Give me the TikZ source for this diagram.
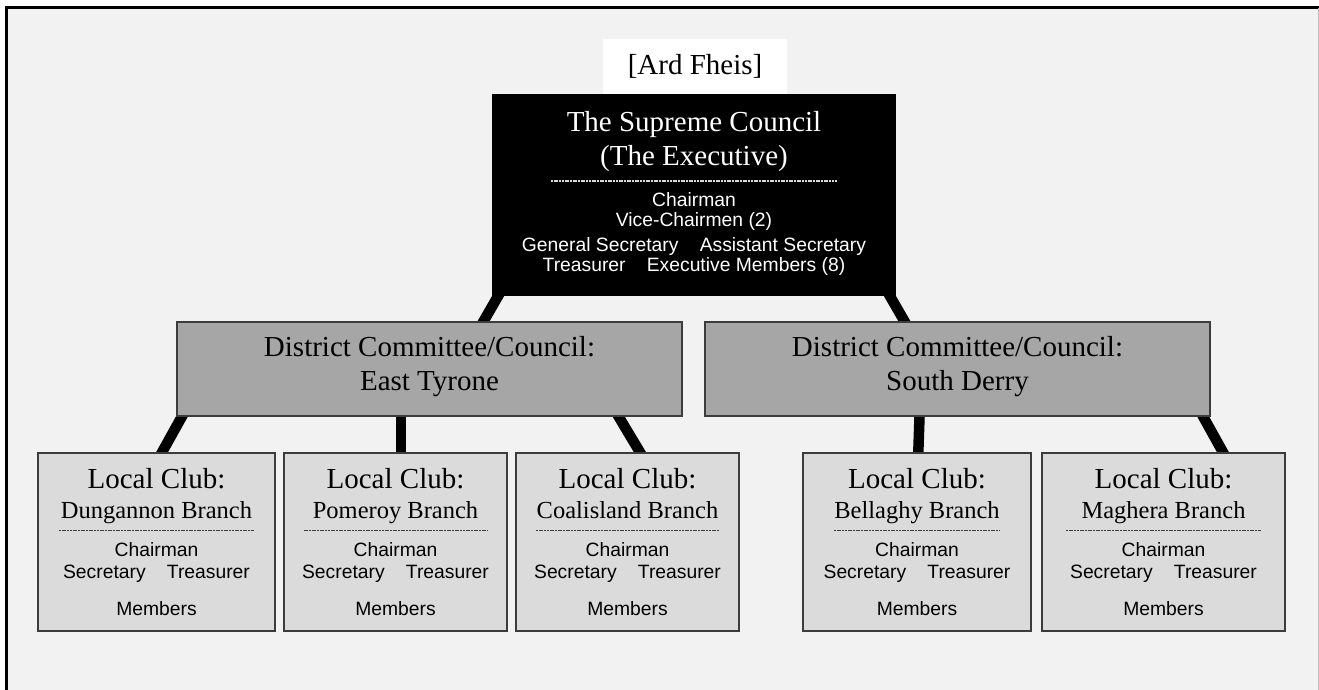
\documentclass[tikz,border=0pt]{standalone}
\usepackage{fontspec}
\setmainfont{Liberation Serif}
\newfontfamily\arialfont{Liberation Sans}
\usetikzlibrary{backgrounds}
\definecolor{pagegray}{HTML}{F2F2F2}
\definecolor{distgray}{HTML}{A6A6A6}
\definecolor{clubgray}{HTML}{DBDBDB}
\definecolor{edgegray}{HTML}{3C3C3C}
\begin{document}
\begin{tikzpicture}[x=1pt, y=-1pt,
						box/.style={rectangle, draw=edgegray, line width=1.4pt, inner sep=0pt},
						seriftitle/.style={anchor=base, inner sep=0pt, font=\fontsize{29}{34}\selectfont},
						serifsub/.style={anchor=base, inner sep=0pt, font=\fontsize{24.5}{29}\selectfont},
						roles/.style={anchor=base, inner sep=0pt, font=\arialfont\fontsize{19.3}{23}\selectfont},
						rule/.style={dash pattern=on 2pt off 0.7pt, line width=1.1pt},
						link/.style={line width=10.5pt, shorten <=-6pt, shorten >=-6pt}
					]
					\useasboundingbox (0,0) rectangle (1319,689);
					\node[box, fill=white, draw=none, minimum width=184pt, minimum height=56pt] (ard) at (695,67) {};
					\node[seriftitle] (ard-a) at ([yshift=-36pt]ard.north) {[Ard Fheis]};
					\node[box, fill=black, draw=black, minimum width=402pt, minimum height=200pt] (sc) at (694,195) {};
					\node[seriftitle, text=white] (sc-a) at ([yshift=-36.7pt]sc.north) {The Supreme Council};
					\node[seriftitle, text=white] (sc-b) at ([yshift=-71pt]sc.north) {(The Executive)};
					\draw[rule, draw=white!85!black] ([xshift=-143pt, yshift=-86.7pt]sc.north) -- ([xshift=143pt, yshift=-86.7pt]sc.north);
					\node[roles, text=white] (sc-c) at ([yshift=-111.7pt]sc.north) {Chairman};
					\node[roles, text=white] (sc-d) at ([yshift=-132.3pt]sc.north) {Vice-Chairmen (2)};
					\node[roles, text=white] (sc-e) at ([yshift=-156.7pt]sc.north) {General Secretary\hspace{1.1em}Assistant Secretary};
					\node[roles, text=white] (sc-f) at ([yshift=-176.7pt]sc.north) {Treasurer\hspace{1.1em}Executive Members (8)};
					\node[box, fill=distgray, minimum width=505pt, minimum height=94pt] (et) at (429.5,369) {};
					\node[seriftitle] (et-a) at ([yshift=-35.3pt]et.north) {District Committee/Council:};
					\node[seriftitle] (et-b) at ([yshift=-68.7pt]et.north) {East Tyrone};
					\node[box, fill=distgray, minimum width=505pt, minimum height=94pt] (sd) at (957.5,369) {};
					\node[seriftitle] (sd-a) at ([yshift=-35.3pt]sd.north) {District Committee/Council:};
					\node[seriftitle] (sd-b) at ([yshift=-68.7pt]sd.north) {South Derry};
					\foreach \nm/\cx/\w/\dw/\br in {dun/156.5/237/195/Dungannon, pom/395.5/223/184/Pomeroy, coa/627.5/223/183/Coalisland, bel/917/228/166/Bellaghy, mag/1163.5/243/195/Maghera}{
						\node[box, fill=clubgray, minimum width=\w pt, minimum height=178pt] (\nm) at (\cx,542) {};
						\node[seriftitle] (\nm-a) at ([yshift=-36pt]\nm.north) {Local Club:};
						\node[serifsub] (\nm-b) at ([yshift=-66pt]\nm.north) {\br\ Branch};
						\draw[rule, draw=edgegray] ([xshift={-\dw/2}, yshift=-78pt]\nm.north) -- ([xshift={\dw/2}, yshift=-78pt]\nm.north);
						\node[roles] (\nm-c) at ([yshift=-103.7pt]\nm.north) {Chairman};
						\node[roles] (\nm-d) at ([yshift=-126.3pt]\nm.north) {Secretary\hspace{1.1em}Treasurer};
						\node[roles] (\nm-e) at ([yshift=-163pt]\nm.north) {Members};
					}
					\begin{scope}[on background layer]
						\fill[pagegray] (6.7,7.5) rectangle (1318,700);
						\draw[line width=3pt] (6.7,700) -- (6.7,7.5) -- (1319,7.5);
						\draw[line width=1pt, draw=black!25] (1318,7.5) -- (1318,700);
						\draw[link] ([xshift=6pt]sc.south west) -- ([xshift=54pt]et.north);
						\draw[link] ([xshift=-6pt]sc.south east) -- ([xshift=-53pt]sd.north);
						\draw[link] ([xshift=5.5pt]et.south west) -- ([xshift=5.5pt]dun.north);
						\draw[link] ([xshift=-28.5pt]et.south) -- ([xshift=5.5pt]pom.north);
						\draw[link] ([xshift=-64pt]et.south east) -- ([xshift=12.5pt]coa.north);
						\draw[link] ([xshift=-38pt]sd.south) -- ([xshift=1.3pt]bel.north);
						\draw[link] ([xshift=-7.5pt]sd.south east) -- ([xshift=59.5pt]mag.north);
					\end{scope}
				\end{tikzpicture}
\end{document}
